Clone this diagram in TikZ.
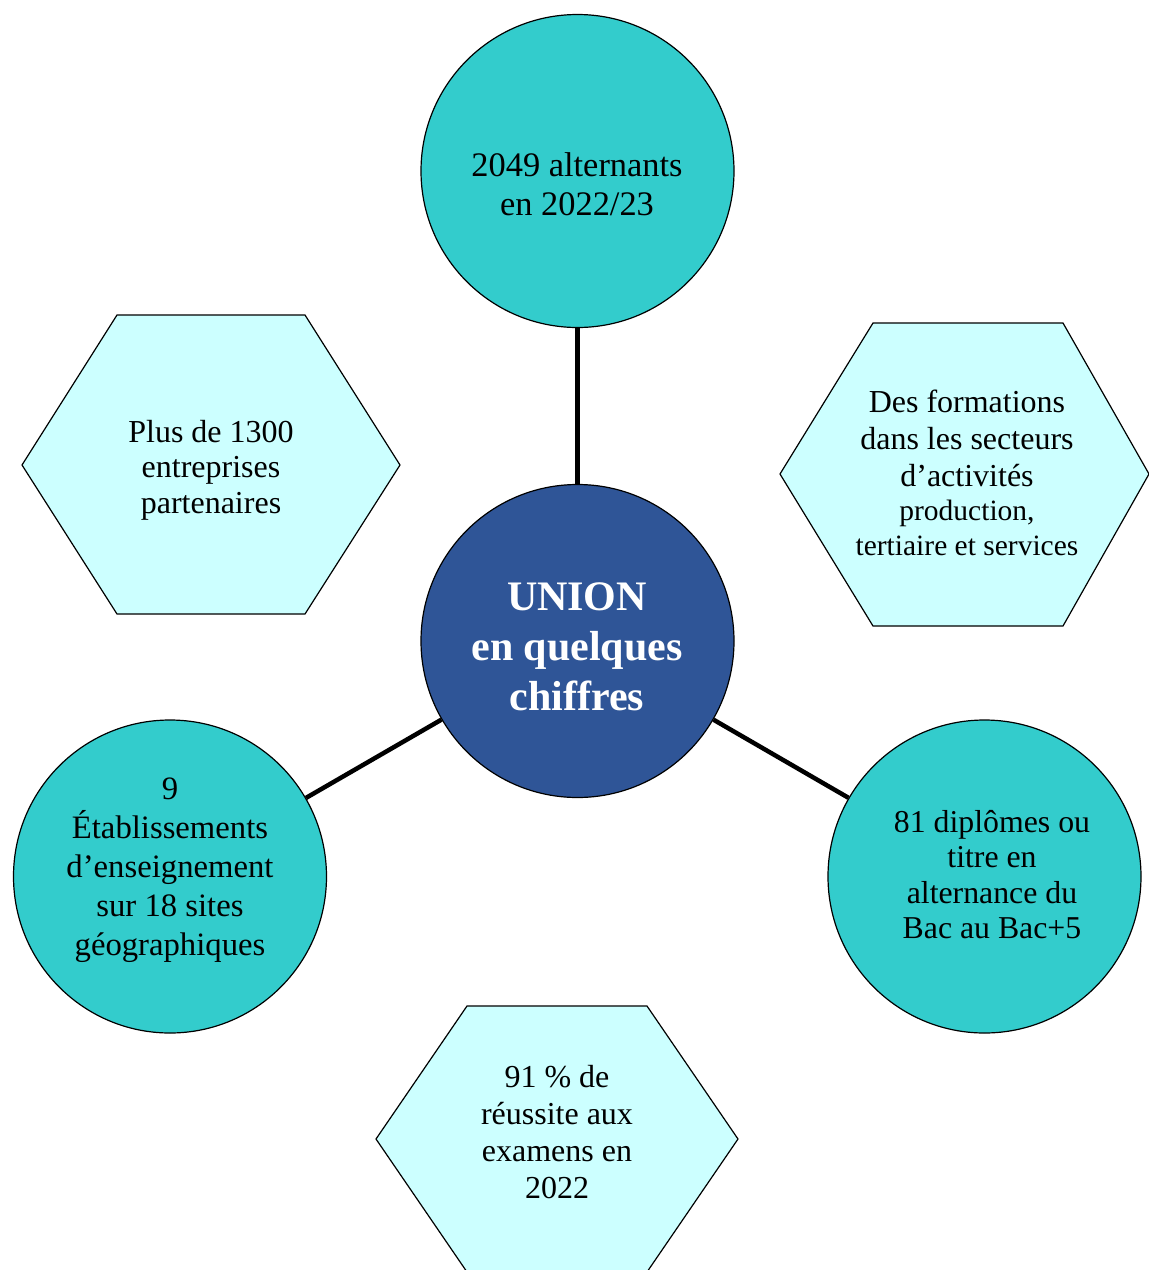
\documentclass[tikz,border=0pt]{standalone}
\usepackage{fontspec}
\setmainfont{Liberation Serif}
\definecolor{tealfill}{HTML}{33CCCC}
\definecolor{paleCyan}{HTML}{CCFFFF}
\definecolor{unionblue}{HTML}{2F5597}
\begin{document}
\begin{tikzpicture}[x=1pt,y=-1pt,
  bubble/.style={circle,draw=black,line width=1.2pt,fill=tealfill,minimum size=313pt,inner sep=0pt},
  hexa/.style={draw=black,line width=1.2pt,fill=paleCyan,line join=miter},
  txt/.style={align=center,inner sep=0pt,text=black},
  conn/.style={line width=4.5pt,draw=black}]
\useasboundingbox (0,0) rectangle (1149,1270);
\clip (0,0) rectangle (1149,1270);
% hexagons
\filldraw[hexa] (22,465) -- (117,315) -- (305,315) -- (400,465) -- (305,614) -- (117,614) -- cycle;
\filldraw[hexa] (780,474) -- (873,323) -- (1063,323) -- (1149,474) -- (1063,626) -- (873,626) -- cycle;
\filldraw[hexa] (376,1139) -- (467,1006) -- (647,1006) -- (738,1139) -- (647,1272) -- (467,1272) -- cycle;
% circles
\node[bubble] (top) at (577.5,171) {};
\node[bubble,fill=unionblue] (center) at (577.5,641) {};
\node[bubble] (left) at (170,876.5) {};
\node[bubble] (right) at (984.5,876.5) {};
% connectors
\draw[conn] (top) -- (center);
\draw[conn] (center) -- (left);
\draw[conn] (center) -- (right);
% texts
\node[txt,font=\fontsize{34.4}{39.5}\selectfont] (tTop) at (577,184) {2049 alternants\\en 2022/23};
\node[txt,text=white,font=\fontsize{42}{50}\selectfont\bfseries] (tCenter) at (577,646.5) {UNION\\en quelques\\chiffres};
\node[txt,font=\fontsize{32.7}{39}\selectfont] (tLeft) at (170,870.5) {9\\Établissements\\d’enseignement\\sur 18 sites\\géographiques};
\node[txt,font=\fontsize{31.8}{35.5}\selectfont] (tRight) at (992,874.5) {81 diplômes ou\\titre en\\alternance du\\Bac au Bac+5};
\node[txt,font=\fontsize{32}{35.5}\selectfont] (tHexL) at (211,470) {Plus de 1300\\entreprises\\partenaires};
\node[txt,font=\fontsize{32}{37}\selectfont] (tHexR) at (967,472.5) {Des formations\\dans les secteurs\\d’activités\\[-3pt]{\fontsize{29.5}{33}\selectfont production,}\\[-2pt]{\fontsize{29.5}{33}\selectfont tertiaire et services}};
\node[txt,font=\fontsize{32}{36.7}\selectfont] (tHexB) at (557,1132) {91 \% de\\réussite aux\\examens en\\2022};
\end{tikzpicture}
\end{document}
